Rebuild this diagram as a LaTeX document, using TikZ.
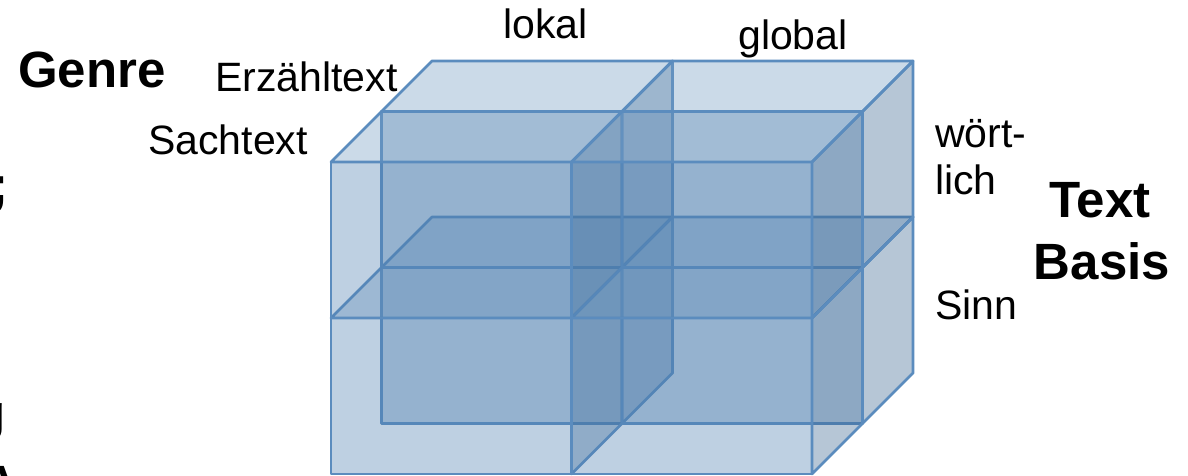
\documentclass[tikz,border=0pt]{standalone}
\usepackage{fontspec}
\setmainfont{Liberation Sans}
\definecolor{frontc}{RGB}{79,128,177}
\definecolor{topc}{RGB}{115,155,193}
\definecolor{rightc}{RGB}{58,101,144}
\definecolor{edgec}{RGB}{91,140,190}
\tikzset{
  face/.style={draw=edgec, line width=2.7pt, line join=round, fill opacity=0.37},
  frontface/.style={face, fill=frontc},
  topface/.style={face, fill=topc},
  rightface/.style={face, fill=rightc},
  lbl/.style={anchor=base west, inner sep=0pt, font=\fontsize{41}{49}\selectfont},
  bold/.style={anchor=base, inner sep=0pt, font=\fontsize{51}{60}\selectfont\bfseries},
}
\newcommand\cubecell[3]{%
  \pgfmathsetmacro\xa{#1+0.5}%
  \pgfmathsetmacro\ya{#2+0.5}%
  \pgfmathsetmacro\za{#3+0.5}%
  \filldraw[frontface] (#1,#2,#3) -- (\xa,#2,#3) -- (\xa,\ya,#3) -- (#1,\ya,#3) -- cycle;
  \filldraw[topface] (#1,\ya,#3) -- (\xa,\ya,#3) -- (\xa,\ya,\za) -- (#1,\ya,\za) -- cycle;
  \filldraw[rightface] (\xa,#2,#3) -- (\xa,\ya,#3) -- (\xa,\ya,\za) -- (\xa,#2,\za) -- cycle;
}
\begin{document}
\begin{tikzpicture}[x=1pt,y=1pt]
\useasboundingbox (0,0) rectangle (1188,476);
\fill[white] (0,0) rectangle (1188,476);
% cube of 2x2x2 translucent cells
\begin{scope}[shift={(331,2)}, x={(481pt,0pt)}, y={(0pt,312pt)}, z={(101pt,101pt)}]
  \cubecell{0}{0}{0.5}
  \cubecell{0.5}{0}{0.5}
  \cubecell{0}{0.5}{0.5}
  \cubecell{0.5}{0.5}{0.5}
  \cubecell{0}{0}{0}
  \cubecell{0.5}{0}{0}
  \cubecell{0}{0.5}{0}
  \cubecell{0.5}{0.5}{0}
\end{scope}
% labels
\node[lbl] (lokal) at (503,437) {lokal};
\node[lbl] (global) at (738,426) {global};
\node[bold, anchor=base west] (genre) at (18,388) {Genre};
\node[lbl] (erz) at (215,384) {Erzähltext};
\node[lbl] (sach) at (148,321) {Sachtext};
\node[lbl] (woert) at (935,328) {wört-};
\node[lbl] (lich) at (935,281) {lich};
\node[bold] (text) at (1100,258) {Text};
\node[bold] (basis) at (1102,196) {Basis};
\node[lbl] (sinn) at (935,156) {Sinn};
% cut-off fragments at the left edge
\node[bold, anchor=base east] (frag1) at (9,273) {;};
\node[bold, anchor=base east] (frag2) at (6,45) {g};
\node[bold, anchor=base] (frag3) at (0,-26) {A};
\end{tikzpicture}
\end{document}
